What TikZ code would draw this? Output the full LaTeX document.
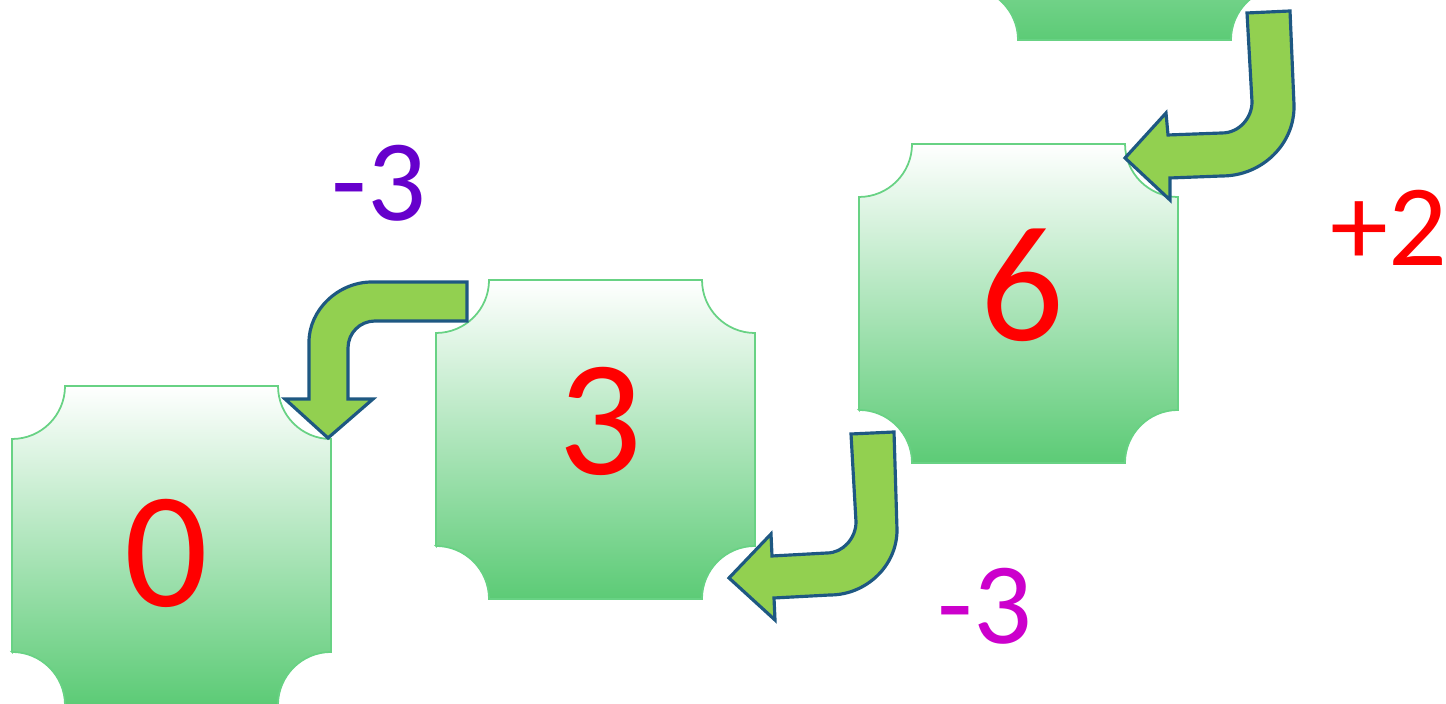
\documentclass[tikz,border=0pt]{standalone}
\usepackage{fontspec}
\setmainfont{Carlito}
\usepackage{tikz}

\definecolor{plaquegreen}{RGB}{92,203,118}
\definecolor{plaqueline}{RGB}{104,210,132}
\definecolor{arrowgreen}{RGB}{146,208,80}
\definecolor{arrowline}{RGB}{30,88,130}
\definecolor{stepviolet}{RGB}{102,0,204}
\definecolor{stepmagenta}{RGB}{204,0,204}

\begin{document}
\begin{tikzpicture}[x=0.01cm,y=0.01cm,
	plaque/.style={draw=plaqueline,line width=0.5pt,top color=white,bottom color=plaquegreen},
	bentarrow/.style={fill=arrowgreen,draw=arrowline,line width=0.9pt,line join=miter},
	numlabel/.style={text=red,inner sep=0pt,font=\fontsize{47}{50}\selectfont},
	steplabel/.style={inner sep=0pt,font=\fontsize{33}{37}\selectfont}]
	\useasboundingbox (0,0) rectangle (1446,704);
	% plaques: lower left corner
	\foreach \a/\b in {12/-1, 436/105, 859/241, 965/664}{
		\path[plaque] (\a,\b+53) -- (\a,\b+266)
			arc[start angle=-90,end angle=0,radius=0.53cm] -- (\a+266,\b+319)
			arc[start angle=180,end angle=270,radius=0.53cm] -- (\a+319,\b+53)
			arc[start angle=90,end angle=180,radius=0.53cm] -- (\a+53,\b)
			arc[start angle=0,end angle=90,radius=0.53cm] -- cycle;
	}
	\node[numlabel] (zero) at (166,151) {0};
	\node[numlabel] (three) at (600,283) {3};
	\node[numlabel] (six) at (1022,419) {6};
	% bent arrows
	\path[bentarrow] (1247,691) -- (1290,693) -- (1294,599)
		.. controls (1295,560) and (1262,528) .. (1222,528)
		-- (1170,526) -- (1170,504) -- (1125,546) -- (1166,591) -- (1168,569)
		-- (1222,571) .. controls (1239,571) and (1252,586) .. (1252,602) -- cycle;
	\path[bentarrow] (467,422) -- (372,422)
		.. controls (338,422) and (309,394) .. (309,362)
		-- (309,305) -- (285,305) -- (328,266) -- (373,305) -- (348,305)
		-- (348,356) .. controls (348,371) and (360,383) .. (375,383)
		-- (467,383) -- cycle;
	\path[bentarrow] (851,270) -- (894,272) -- (897,174)
		.. controls (897,138) and (866,109) .. (830,109)
		-- (774,106) -- (775,84) -- (729,126) -- (771,170) -- (772,148)
		-- (827,151) .. controls (843,151) and (856,166) .. (856,182) -- cycle;
	% steps
	\node[steplabel,text=stepviolet] (minusA) at (379,521) {-3};
	\node[steplabel,text=stepmagenta] (minusB) at (985,98) {-3};
	\node[steplabel,text=red] (plusA) at (1389,476) {+2};
\end{tikzpicture}
\end{document}
